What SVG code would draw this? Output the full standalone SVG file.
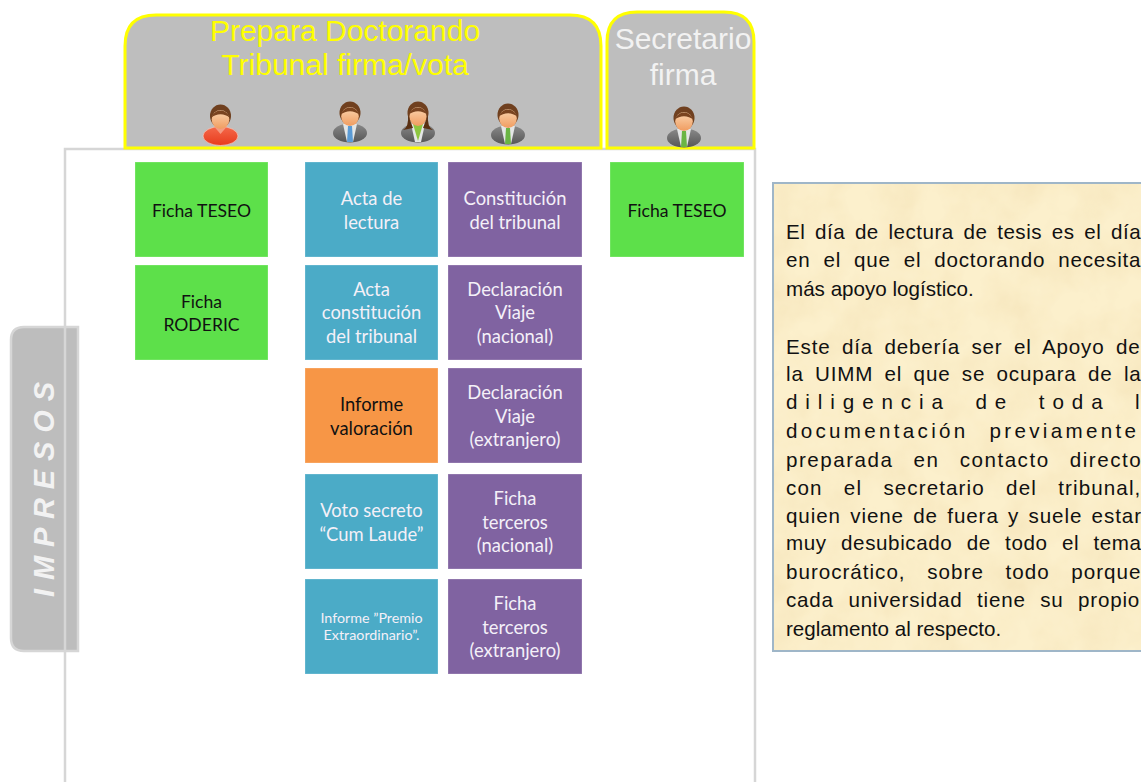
<svg xmlns="http://www.w3.org/2000/svg" xmlns:xlink="http://www.w3.org/1999/xlink" width="1141" height="782" viewBox="0 0 1141 782">
<style>
.card{stroke-width:1;stroke-opacity:.25;stroke:#fff}
.g{fill:#5de04a}.b{fill:#4babc7}.p{fill:#8063a1}.o{fill:#f79646}
.t{font-family:"Lato","Open Sans",sans-serif;font-size:18.4px;text-anchor:middle;fill:#f4f0f8}
.k{fill:#111}
.s{font-size:17.6px}
.m{font-size:14.3px}
.body{font-family:"Liberation Sans",Arial,sans-serif;font-size:20.6px;fill:#111}
.head{font-family:"Liberation Sans",Arial,sans-serif;font-size:30px;text-anchor:middle}
</style>
<defs>
<filter id="parch" x="0" y="0" width="100%" height="100%">
<feTurbulence type="fractalNoise" baseFrequency="0.025" numOctaves="4" seed="4"/>
<feColorMatrix values="0 0 0 0 .93  0 0 0 0 .80  0 0 0 0 .52  1.8 0 0 0 -.6"/>
<feComposite in2="SourceGraphic" operator="in" result="n"/>
<feMerge><feMergeNode in="SourceGraphic"/><feMergeNode in="n"/></feMerge>
</filter>
<linearGradient id="face" x1="0" y1="0" x2="0" y2="1"><stop offset="0" stop-color="#fbd6b0"/><stop offset="1" stop-color="#f09c60"/></linearGradient>
<linearGradient id="suit" x1="0" y1="0" x2="0" y2="1"><stop offset="0" stop-color="#8a8a8a"/><stop offset="1" stop-color="#565656"/></linearGradient>
<linearGradient id="red" x1="0" y1="0" x2="0" y2="1"><stop offset="0" stop-color="#f4694a"/><stop offset="1" stop-color="#e83a1c"/></linearGradient>
<g id="headm">
<ellipse cx="0" cy="-20" rx="10.5" ry="11.5" fill="#70401f"/>
<ellipse cx="0" cy="-16.500" rx="8.8" ry="9.500" fill="url(#face)"/>
<path d="M-9.500-18C-6-28 6-28 9.500-18C4-23-4-23-9.500-18Z" fill="#7a4420"/>
</g>
<g id="suitm">
<ellipse cx="0" cy="0" rx="17" ry="9.500" fill="url(#suit)"/>
<path d="M-7-9L7-9L3 9L-3 9Z" fill="#e4e6e6"/>
</g>
</defs>

<g id="frame"><path d="M65 782V149H755V782" fill="none" stroke="#d6d6d6" stroke-width="2.500"/></g>

<g id="panel-prepara">
<path d="M125 148V46Q125 15 156 15H570Q601 15 601 46V148Z" fill="#bebebe" stroke="#ffff00" stroke-width="3"/>
<text class="head" x="345" y="41" fill="#ffff00">Prepara Doctorando</text>
<text class="head" x="345" y="75" fill="#ffff00">Tribunal firma/vota</text>
<g id="person-doctorando" transform="translate(220.500,136)"><ellipse cx="0" cy="0" rx="17.500" ry="9.500" fill="url(#red)" stroke="#f3d0c4" stroke-width=".7"/><path d="M-6-9L0-2L6-9Z" fill="#f59a80"/><use xlink:href="#headm"/></g>
<g id="person-tribunal-1" transform="translate(350,133)"><use xlink:href="#suitm"/><path d="M-2-7H2L3 9H-3Z" fill="#5b9bd5"/><use xlink:href="#headm"/></g>
<g id="person-tribunal-2" transform="translate(418,133)"><use xlink:href="#suitm"/><path d="M-5-9L0 8L5-9Z" fill="#8dc63f"/><ellipse cx="0" cy="-20" rx="10.500" ry="11.500" fill="#70401f"/><path d="M-10-18Q-9-6-15-3L-5-5ZM10-18Q9-6 15-3L5-5Z" fill="#5a3012"/><ellipse cx="0" cy="-16.500" rx="8.500" ry="9.500" fill="url(#face)"/><path d="M-9.500-18C-6-28 6-28 9.500-18C4-23-4-23-9.500-18Z" fill="#7a4420"/></g>
<g id="person-tribunal-3" transform="translate(508,135)"><use xlink:href="#suitm"/><path d="M-2-7H2L3 9H-3Z" fill="#6ab544"/><use xlink:href="#headm"/></g>
</g>

<g id="panel-secretario">
<path d="M607 148V42Q607 12 637 12H724Q754 12 754 42V148Z" fill="#bebebe" stroke="#ffff00" stroke-width="3"/>
<text class="head" x="683" y="49" fill="#f2f2f2">Secretario</text>
<text class="head" x="683" y="85" fill="#f2f2f2">firma</text>
<g id="person-secretario" transform="translate(684,138)"><use xlink:href="#suitm"/><path d="M-2-7H2L3 9H-3Z" fill="#6ab544"/><use xlink:href="#headm"/></g>
</g>

<g id="tab-impresos">
<path d="M78 327H24Q11 327 11 340V638Q11 651 24 651H78Z" fill="#bdbdbd" stroke="#d6d6d6" stroke-width="2.500"/>
<path d="M65 327V651" stroke="#d6d6d6" stroke-width="2.500"/>
<text transform="translate(54,597) rotate(-90)" font-family="Liberation Sans,Arial,sans-serif" font-style="italic" font-weight="bold" font-size="29" fill="#f2f2f2" textLength="215" lengthAdjust="spacing">IMPRESOS</text>
</g>

<g id="card-teseo-1"><rect class="card g" x="135" y="162" width="133" height="95"/><text class="t k s" x="201.500" y="217">Ficha TESEO</text></g>
<g id="card-roderic"><rect class="card g" x="135" y="265" width="133" height="95"/><text class="t k s" x="201.500" y="308">Ficha</text><text class="t k s" x="201.500" y="331">RODERIC</text></g>
<g id="card-acta"><rect class="card b" x="305" y="162" width="133" height="95"/><text class="t" x="371.500" y="205">Acta de</text><text class="t" x="371.500" y="229">lectura</text></g>
<g id="card-constitucion-acta"><rect class="card b" x="305" y="265" width="133" height="95"/><text class="t" x="371.500" y="296">Acta</text><text class="t" x="371.500" y="319">constitución</text><text class="t" x="371.500" y="343">del tribunal</text></g>
<g id="card-informe"><rect class="card o" x="305" y="368" width="133" height="95"/><text class="t k" x="371.500" y="411">Informe</text><text class="t k" x="371.500" y="435">valoración</text></g>
<g id="card-voto"><rect class="card b" x="305" y="474" width="133" height="95"/><text class="t" x="371.500" y="517">Voto secreto</text><text class="t" x="371.500" y="541">“Cum Laude”</text></g>
<g id="card-premio"><rect class="card b" x="305" y="579" width="133" height="95"/><text class="t m" x="371.500" y="623">Informe ”Premio</text><text class="t m" x="371.500" y="640">Extraordinario”.</text></g>

<g id="card-constitucion"><rect class="card p" x="448" y="162" width="134" height="95"/><text class="t" x="515" y="205">Constitución</text><text class="t" x="515" y="229">del tribunal</text></g>
<g id="card-viaje-nac"><rect class="card p" x="448" y="265" width="134" height="95"/><text class="t" x="515" y="296">Declaración</text><text class="t" x="515" y="319">Viaje</text><text class="t" x="515" y="343">(nacional)</text></g>
<g id="card-viaje-ext"><rect class="card p" x="448" y="368" width="134" height="95"/><text class="t" x="515" y="399">Declaración</text><text class="t" x="515" y="423">Viaje</text><text class="t" x="515" y="446">(extranjero)</text></g>
<g id="card-terceros-nac"><rect class="card p" x="448" y="474" width="134" height="95"/><text class="t" x="515" y="505">Ficha</text><text class="t" x="515" y="529">terceros</text><text class="t" x="515" y="552">(nacional)</text></g>
<g id="card-terceros-ext"><rect class="card p" x="448" y="579" width="134" height="95"/><text class="t" x="515" y="610">Ficha</text><text class="t" x="515" y="634">terceros</text><text class="t" x="515" y="657">(extranjero)</text></g>

<g id="card-teseo-2"><rect class="card g" x="610" y="162" width="134" height="95"/><text class="t k s" x="677" y="217">Ficha TESEO</text></g>

<g id="note">
<rect x="773" y="183" width="370" height="468" fill="#fcf0cc" filter="url(#parch)"/>
<rect x="773" y="183" width="370" height="468" fill="none" stroke="#9fb6c8" stroke-width="2"/>
<text class="body" x="786" y="239" letter-spacing=".5" word-spacing="3.500">El día de lectura de tesis es el día</text>
<text class="body" x="786" y="267" letter-spacing=".8" word-spacing="6.400">en el que el doctorando necesita</text>
<text class="body" x="786" y="296">más apoyo logístico.</text>
<text class="body" x="786" y="354" letter-spacing=".8" word-spacing="5">Este día debería ser el Apoyo de</text>
<text class="body" x="786" y="381" letter-spacing=".8" word-spacing="4.900">la UIMM el que se ocupara de la</text>
<text class="body" x="786" y="409" letter-spacing="7.900" word-spacing="11">diligencia de toda la</text>
<text class="body" x="786" y="438" letter-spacing="3.300" word-spacing="12">documentación previamente</text>
<text class="body" x="786" y="467" letter-spacing="1.500" word-spacing="13">preparada en contacto directo</text>
<text class="body" x="786" y="495" letter-spacing="1.100" word-spacing="14.500">con el secretario del tribunal,</text>
<text class="body" x="786" y="523" letter-spacing=".9" word-spacing="2.700">quien viene de fuera y suele estar</text>
<text class="body" x="786" y="550" letter-spacing=".6" word-spacing="8">muy desubicado de todo el tema</text>
<text class="body" x="786" y="579" letter-spacing="1" word-spacing="15">burocrático, sobre todo porque</text>
<text class="body" x="786" y="607" letter-spacing=".8" word-spacing="8">cada universidad tiene su propio</text>
<text class="body" x="786" y="636">reglamento al respecto.</text>
</g>
</svg>
